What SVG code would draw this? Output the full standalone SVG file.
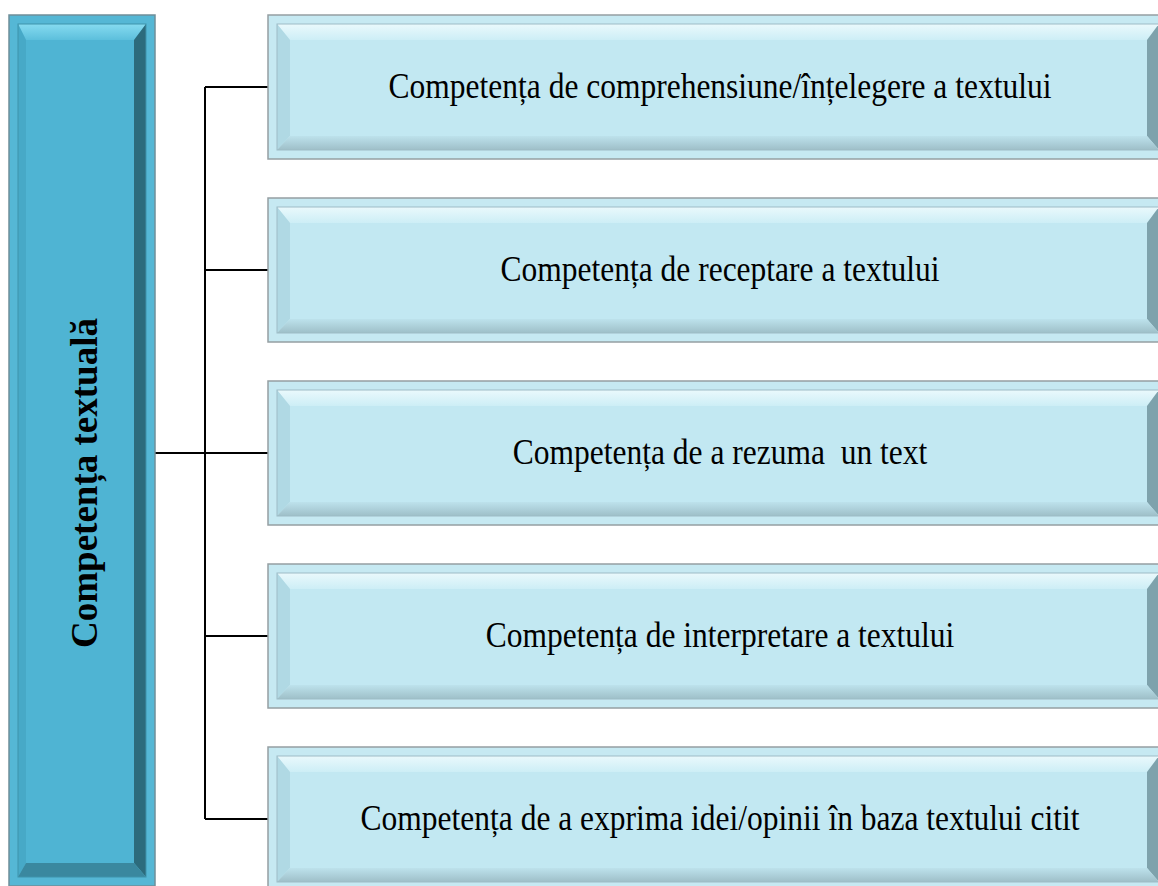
<svg xmlns="http://www.w3.org/2000/svg" xmlns:xlink="http://www.w3.org/1999/xlink" width="1158" height="886" viewBox="0 0 1158 886">
<style>
.lbl{font-family:"Liberation Serif","Times New Roman",serif;font-size:36px;fill:#000;text-anchor:middle}
.main{font-family:"Liberation Serif","Times New Roman",serif;font-size:37px;font-weight:bold;fill:#000;text-anchor:middle}
.conn{fill:none;stroke:#000;stroke-width:2}
.r-out{fill:#c6e9f2;stroke:#959fa2;stroke-width:1.5}
.r-in{fill:none;stroke:#9dbcc5;stroke-width:1}
.r-face{fill:#c2e8f2}
.r-left{fill:#b0d9e4}
.r-right{fill:#7ea2ac}
.l-out{fill:#55b7d5;stroke:#6f8f99;stroke-width:1.5}
.l-in{fill:none;stroke:#3f93ab;stroke-width:1}
.l-face{fill:#4fb4d3}
.l-left{fill:#47a9c7}
.l-right{fill:#2c6b7c}
.l-bot{fill:#3a889f}
</style>
<defs>
<linearGradient id="rTop" x1="0" y1="0" x2="0" y2="1">
<stop offset="0" stop-color="#eaf9fc"/><stop offset="1" stop-color="#cdeef6"/>
</linearGradient>
<linearGradient id="rBot" x1="0" y1="0" x2="0" y2="1">
<stop offset="0" stop-color="#bde2ec"/><stop offset="1" stop-color="#9ebfc8"/>
</linearGradient>
<linearGradient id="lTop" x1="0" y1="0" x2="0" y2="1">
<stop offset="0" stop-color="#86dbf0"/><stop offset="1" stop-color="#5cbfdc"/>
</linearGradient>
<g id="rbox">
<rect class="r-out" x="268" y="15" width="900" height="144"/>
<polygon fill="url(#rTop)" points="277,24 1159,24 1147,40 290,40"/>
<polygon class="r-left" points="277,24 290,40 290,136 277,150"/>
<polygon class="r-right" points="1159,24 1159,150 1147,136 1147,40"/>
<polygon fill="url(#rBot)" points="277,150 1159,150 1147,136 290,136"/>
<rect class="r-face" x="290" y="40" width="857" height="96"/>
<rect class="r-in" x="277" y="24" width="882" height="126"/>
</g>
</defs>
<g id="connectors">
<path class="conn" d="M205,87 V819"/>
<path class="conn" d="M205,87 H270"/>
<path class="conn" d="M205,270 H270"/>
<path class="conn" d="M152,453 H270"/>
<path class="conn" d="M205,636 H270"/>
<path class="conn" d="M205,819 H270"/>
</g>
<g id="node-main">
<rect class="l-out" x="9" y="15" width="146" height="871"/>
<polygon fill="url(#lTop)" points="18,24 146,24 134,40 26,40"/>
<polygon class="l-left" points="18,24 26,40 26,863 18,877"/>
<polygon class="l-right" points="146,24 146,877 134,863 134,40"/>
<polygon class="l-bot" points="18,877 146,877 134,863 26,863"/>
<rect class="l-face" x="26" y="40" width="108" height="823"/>
<rect class="l-in" x="18" y="24" width="128" height="853"/>
<text class="main" transform="translate(97,483) rotate(-90)">Competența textuală</text>
</g>
<g id="node-1">
<use xlink:href="#rbox"/>
<text class="lbl" transform="translate(720,98) scale(0.875,1)">Competența de comprehensiune/înțelegere a textului</text>
</g>
<g id="node-2">
<use xlink:href="#rbox" y="183"/>
<text class="lbl" transform="translate(720,281) scale(0.875,1)">Competența de receptare a textului</text>
</g>
<g id="node-3">
<use xlink:href="#rbox" y="366"/>
<text class="lbl" transform="translate(720,464) scale(0.875,1)" xml:space="preserve">Competența de a rezuma  un text</text>
</g>
<g id="node-4">
<use xlink:href="#rbox" y="549"/>
<text class="lbl" transform="translate(720,647) scale(0.875,1)">Competența de interpretare a textului</text>
</g>
<g id="node-5">
<use xlink:href="#rbox" y="732"/>
<text class="lbl" transform="translate(720,830) scale(0.875,1)">Competența de a exprima idei/opinii în baza textului citit</text>
</g>
</svg>
